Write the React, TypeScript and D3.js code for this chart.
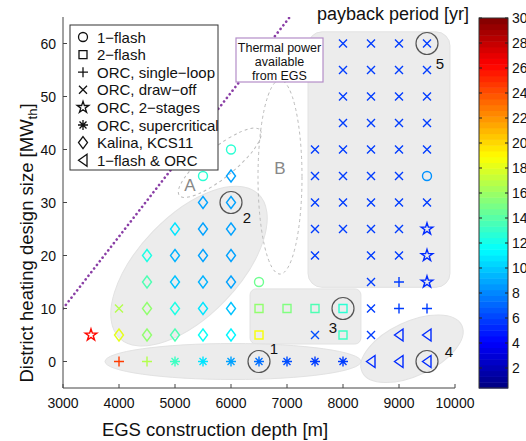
import React from "react";
import * as d3 from "d3";

// [depth m, DH size MWth, payback yr]
const flash1 = [[5500, 35, 12.5], [6000, 40, 12.5], [6500, 15, 14.5], [9500, 35, 8]];
const flash2 = [[6500, 10, 15.5], [7000, 10, 15], [7500, 10, 13.5], [8000, 10, 12.5], [6500, 5, 18.5], [8000, 5, 13]];
const orcSingle = [[4000, 0, 24.5], [4500, 0, 16.5], [9000, 15, 5.5], [9000, 10, 5.5], [9500, 10, 5.5]];
const orcDrawOff = [
  [4000, 10, 16.5], [7500, 5, 6], [8500, 5, 5.5], [8500, 10, 5.5], [8500, 15, 5.5],
  [7500, 20, 5.5], [8500, 20, 5.5], [9000, 20, 5.5],
  [7500, 25, 5.5], [8000, 25, 5.5], [8500, 25, 5.5], [9000, 25, 5.5],
  [7500, 30, 5.5], [8000, 30, 5.5], [8500, 30, 5.5], [9000, 30, 5.5], [9500, 30, 5.5],
  [7500, 35, 5.5], [8000, 35, 5.5], [8500, 35, 5.5], [9000, 35, 5.5],
  [7500, 40, 5.5], [8000, 40, 5.5], [8500, 40, 5.5], [9000, 40, 5.5], [9500, 40, 5.5],
  [8000, 45, 5.5], [8500, 45, 5.5], [9000, 45, 5.5], [9500, 45, 5.5],
  [8000, 50, 5.5], [8500, 50, 5.5], [9000, 50, 5.5], [9500, 50, 5.5],
  [8000, 55, 5.5], [8500, 55, 5.5], [9000, 55, 5.5], [9500, 55, 5.5],
  [8000, 60, 5.5], [8500, 60, 5.5], [9000, 60, 5.5], [9500, 60, 5.5],
];
const orc2Stage = [[3500, 5, 26], [9500, 15, 5], [9500, 20, 5], [9500, 25, 5]];
const orcSuper = [[5000, 0, 13], [5500, 0, 10.5], [6000, 0, 8.5], [6500, 0, 7], [7000, 0, 6], [7500, 0, 5.5], [8000, 0, 5.5]];
const kalina = [
  [4000, 5, 18], [4500, 5, 15.5], [5000, 5, 13.5], [5500, 5, 11.5], [6000, 5, 11],
  [4500, 10, 15.5], [5000, 10, 12], [5500, 10, 10.5], [6000, 10, 9.5],
  [4500, 15, 13.5], [5000, 15, 9.5], [5500, 15, 9], [6000, 15, 8.5],
  [4500, 20, 12], [5000, 20, 9], [5500, 20, 8.5], [6000, 20, 8.5],
  [5000, 25, 10.5], [5500, 25, 8.5], [6000, 25, 8.5],
  [5500, 30, 8.5], [6000, 30, 8.5],
  [6000, 35, 8.5],
];
const flashOrc = [[8500, 0, 5], [9000, 0, 5], [9500, 0, 5], [9000, 5, 5], [9500, 5, 5]];

const legendLabels = ["1\u2212flash", "2\u2212flash", "ORC, single\u2212loop", "ORC, draw\u2212off", "ORC, 2\u2212stages", "ORC, supercritical", "Kalina, KCS11", "1\u2212flash & ORC"];
const markerTypes = ["circle", "square", "plus", "cross", "star", "asterisk", "diamond", "triangle"];
const seriesData = [flash1, flash2, orcSingle, orcDrawOff, orc2Stage, orcSuper, kalina, flashOrc];

const xTicks = [3000, 4000, 5000, 6000, 7000, 8000, 9000, 10000];
const yTicks = [0, 10, 20, 30, 40, 50, 60];
const cbTicks = [2, 4, 6, 8, 10, 12, 14, 16, 18, 20, 22, 24, 26, 28, 30];

// numbered callouts [depth, size, label]
const callouts = [[6500, 0, "1"], [6000, 30, "2"], [8000, 10, "3"], [9500, 0, "4"], [9500, 60, "5"]];

const font = "'Liberation Sans', Arial, Helvetica, sans-serif";

function jet(v) {
  const t = Math.max(0, Math.min(1, v / 30));
  const cl = (a) => Math.round(255 * Math.max(0, Math.min(1, a)));
  const r = cl(1.5 - Math.abs(4 * t - 3));
  const g = cl(1.5 - Math.abs(4 * t - 2));
  const b = cl(1.5 - Math.abs(4 * t - 1));
  return `rgb(${r},${g},${b})`;
}

const starPath = d3.symbol(d3.symbolStar, 42)();

function Marker({ type, color, sw = 1.4 }) {
  const p = { fill: "none", stroke: color, strokeWidth: sw };
  switch (type) {
    case "circle": return <circle r={4.5} {...p} />;
    case "square": return <path d="M-4,-4h8v8h-8Z" {...p} />;
    case "plus": return <path d="M-5,0H5M0,-5V5" {...p} />;
    case "cross": return <path d="M-4,-4L4,4M-4,4L4,-4" {...p} />;
    case "star": return <path d={starPath} {...p} />;
    case "asterisk": return <path d="M-5,0H5M0,-5V5M-3.5,-3.5L3.5,3.5M-3.5,3.5L3.5,-3.5" {...p} />;
    case "diamond": return <path d="M0,-6L4.5,0L0,6L-4.5,0Z" {...p} />;
    case "triangle": return <path d="M-4.5,0L4,-6L4,6Z" {...p} />;
    default: return null;
  }
}

export default function App() {
  const W = 526, H = 441;
  const x = d3.scaleLinear().domain([3000, 10000]).range([63, 455]);
  const y = d3.scaleLinear().domain([-5, 65]).range([388, 17]);
  const cb = d3.scaleLinear().domain([0.4, 30]).range([388, 18]);
  const cbX = 479, cbW = 29;
  const levels = d3.range(64);

  const line = d3.line().x((d) => x(d[0])).y((d) => y(d[1]));
  const labelOffsets = { "1": [15, -13], "2": [16, 15], "3": [-10, 19], "4": [22, -10], "5": [13, 20] };

  return (
    <div style={{ position: "absolute", left: 0, top: 0 }}>
      <svg width={W} height={H} style={{ display: "block", background: "#fff" }} fontFamily={font}>
        <defs>
          <clipPath id="plotclip">
            <rect x={63} y={17} width={392} height={371} />
          </clipPath>
        </defs>

        {/* shaded groups */}
        <g fill="#ececec" stroke="#e2e2e2" strokeWidth={1}>
          <rect x={x(7375)} y={y(62.2)} width={x(9910) - x(7375)} height={y(14) - y(62.2)} rx={14} />
          <rect x={x(6340)} y={y(13.7)} width={x(8320) - x(6340)} height={y(3.3) - y(13.7)} rx={6} />
          <ellipse cx={0} cy={0} rx={100} ry={50} transform={`translate(${x(5250)},${y(18)}) rotate(-46)`} />
          <ellipse cx={x(6036)} cy={y(0)} rx={128} ry={18} />
          <ellipse cx={0} cy={0} rx={55} ry={27} transform={`translate(${x(9232)},${y(2.4)}) rotate(-25)`} />
        </g>
        <g fill="none" stroke="#bbb" strokeWidth={1} strokeDasharray="3,3">
          <ellipse cx={x(6875)} cy={y(34.8)} rx={22} ry={97} />
          <ellipse cx={0} cy={0} rx={52} ry={15} transform={`translate(${x(5800)},${y(37.5)}) rotate(-39)`} />
        </g>
        <text x={190} y={191} fontSize={17} fill="#888" textAnchor="middle">A</text>
        <text x={x(6875)} y={174} fontSize={17} fill="#888" textAnchor="middle">B</text>

        {/* markers */}
        {seriesData.map((pts, si) => (
          <g key={si}>
            {pts.map((d, i) => (
              <g key={i} transform={`translate(${x(d[0])},${y(d[1])})`}>
                <Marker type={markerTypes[si]} color={jet(d[2])} />
              </g>
            ))}
          </g>
        ))}

        {/* callouts */}
        {callouts.map((c) => (
          <g key={c[2]}>
            <circle cx={x(c[0])} cy={y(c[1])} r={11} fill="none" stroke="#555" strokeWidth={1.2} />
            <text x={x(c[0]) + labelOffsets[c[2]][0]} y={y(c[1]) + labelOffsets[c[2]][1] + 5} fontSize={15} fill="#111" textAnchor="middle">{c[2]}</text>
          </g>
        ))}

        {/* thermal power limit */}
        <path d={line([[3000, 10], [7050, 65]])} clipPath="url(#plotclip)" fill="none" stroke="#8a3fa6" strokeWidth={2.6} strokeDasharray="0.1,4.5" strokeLinecap="round" />

        {/* axes */}
        <g stroke="#444" strokeWidth={1}>
          <line x1={63} x2={63} y1={17} y2={388} />
          <line x1={63} x2={455} y1={388} y2={388} />
          {yTicks.map((t) => <line key={t} x1={63} x2={67} y1={y(t)} y2={y(t)} />)}
          {xTicks.map((t) => <line key={t} x1={x(t)} x2={x(t)} y1={388} y2={384} />)}
        </g>
        <g fontSize={14} fill="#111">
          {yTicks.map((t) => <text key={t} x={56} y={y(t) + 5} textAnchor="end">{t}</text>)}
          {xTicks.map((t) => <text key={t} x={x(t)} y={408} textAnchor="middle">{t}</text>)}
        </g>
        <text x={215} y={436} fontSize={18.5} textAnchor="middle" fill="#111">EGS construction depth [m]</text>
        <text transform="translate(33,243) rotate(-90)" fontSize={18.5} textAnchor="middle" fill="#111">
          District heating design size [MW<tspan dy={4} fontSize={13}>th</tspan><tspan dy={-4}>]</tspan>
        </text>

        {/* legend */}
        <g>
          <rect x={70} y={25} width={148} height={145} fill="#fff" stroke="#333" strokeWidth={1} />
          {legendLabels.map((l, i) => (
            <g key={l} transform={`translate(0,${37 + i * 17.6})`}>
              <g transform="translate(83,0)"><Marker type={markerTypes[i]} color="#111" sw={1.3} /></g>
              <text x={97} y={5.5} fontSize={15} fill="#111">{l}</text>
            </g>
          ))}
        </g>

        {/* EGS thermal power box */}
        <g>
          <rect x={236} y={38} width={87} height={44} fill="#fff" stroke="#b48ec8" strokeWidth={1.2} />
          {["Thermal power", "available", "from EGS"].map((s, i) => (
            <text key={s} x={279.5} y={52 + i * 14} fontSize={12.5} textAnchor="middle" fill="#111">{s}</text>
          ))}
        </g>

        {/* colorbar */}
        <text x={393} y={20} fontSize={18} textAnchor="middle" fill="#111">payback period [yr]</text>
        <g>
          {levels.map((i) => {
            const v0 = cb.domain()[0] + (i / 64) * (30 - cb.domain()[0]);
            const v1 = cb.domain()[0] + ((i + 1) / 64) * (30 - cb.domain()[0]);
            return <rect key={i} x={cbX} y={cb(v1)} width={cbW} height={cb(v0) - cb(v1) + 0.5} fill={jet((i + 0.5) * 30 / 64)} />;
          })}
          <rect x={cbX} y={18} width={cbW} height={370} fill="none" stroke="#333" strokeWidth={1} />
          {cbTicks.map((t) => (
            <g key={t} stroke="#222" strokeWidth={1}>
              <line x1={cbX} x2={cbX + 3} y1={cb(t)} y2={cb(t)} />
              <line x1={cbX + cbW - 3} x2={cbX + cbW} y1={cb(t)} y2={cb(t)} />
            </g>
          ))}
          {cbTicks.map((t) => <text key={t} x={cbX + cbW + 4} y={cb(t) + 5} fontSize={14} fill="#111">{t}</text>)}
        </g>
      </svg>
    </div>
  );
}
